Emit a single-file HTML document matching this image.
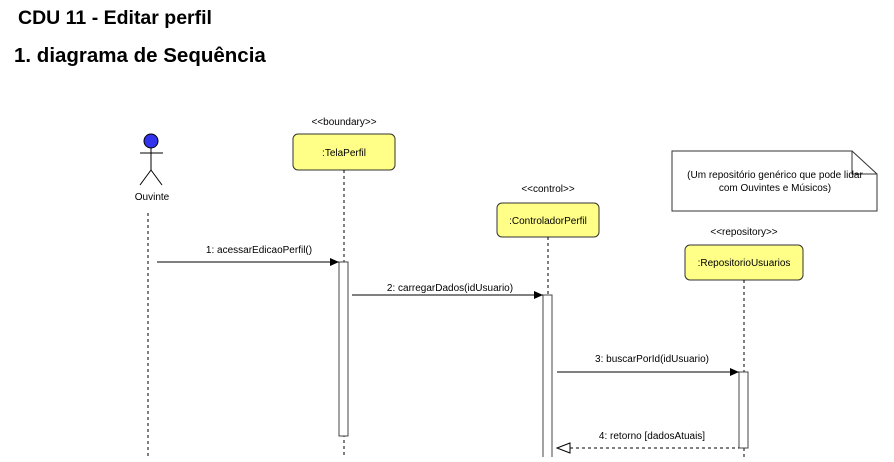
<!DOCTYPE html>
<html><head><meta charset="utf-8"><style>
body{margin:0;background:#fff;width:894px;height:457px;overflow:hidden}
</style></head><body>
<svg width="894" height="457" xmlns="http://www.w3.org/2000/svg" font-family="Liberation Sans, Arial, sans-serif">
<text x="18" y="24" font-size="19.5" font-weight="bold">CDU 11 - Editar perfil</text>
<text x="14" y="62" font-size="20.5" font-weight="bold">1. diagrama de Sequência</text>
<defs>
<marker id="a" markerWidth="10" markerHeight="8" refX="9" refY="4" orient="auto" markerUnits="userSpaceOnUse"><path d="M0,0 L9,4 L0,8 Z" fill="#000"/></marker>
</defs>
<circle cx="151" cy="141" r="7" fill="#3333ee" stroke="#000"/>
<line x1="151" y1="148" x2="151" y2="170" stroke="#000"/>
<line x1="140" y1="153" x2="163" y2="153" stroke="#000"/>
<line x1="151" y1="170" x2="140" y2="185" stroke="#000"/>
<line x1="151" y1="170" x2="162" y2="185" stroke="#000"/>
<text x="152" y="200" font-size="10" text-anchor="middle">Ouvinte</text>
<line x1="148" y1="213" x2="148" y2="457" stroke="#000" stroke-dasharray="3,3"/>
<text x="344" y="125" font-size="10" text-anchor="middle">&lt;&lt;boundary&gt;&gt;</text>
<rect x="293" y="134" width="102" height="36" rx="5" fill="#ffff88" stroke="#333"/>
<text x="344" y="156" font-size="10" text-anchor="middle">:TelaPerfil</text>
<line x1="344" y1="170" x2="344" y2="457" stroke="#000" stroke-dasharray="3,3"/>
<rect x="339" y="262" width="9" height="174" fill="#fff" stroke="#444"/>
<text x="548" y="192" font-size="10" text-anchor="middle">&lt;&lt;control&gt;&gt;</text>
<rect x="497" y="203" width="102" height="34" rx="5" fill="#ffff88" stroke="#333"/>
<text x="548" y="224" font-size="10" text-anchor="middle">:ControladorPerfil</text>
<line x1="548" y1="237" x2="548" y2="457" stroke="#000" stroke-dasharray="3,3"/>
<rect x="543" y="295" width="9" height="170" fill="#fff" stroke="#444"/>
<path d="M672,151 L852,151 L877,174 L877,211 L672,211 Z" fill="#fff" stroke="#333"/>
<path d="M852,151 L852,174 L877,174" fill="none" stroke="#333"/>
<text x="775" y="178" font-size="10" text-anchor="middle">(Um repositório genérico que pode lidar</text>
<text x="775" y="191" font-size="10" text-anchor="middle">com Ouvintes e Músicos)</text>
<text x="744" y="235" font-size="10" text-anchor="middle">&lt;&lt;repository&gt;&gt;</text>
<rect x="685" y="245" width="118" height="35" rx="5" fill="#ffff88" stroke="#333"/>
<text x="744" y="266" font-size="10" text-anchor="middle">:RepositorioUsuarios</text>
<line x1="744" y1="280" x2="744" y2="457" stroke="#000" stroke-dasharray="3,3"/>
<rect x="739" y="372" width="9" height="76" fill="#fff" stroke="#444"/>
<line x1="157" y1="262" x2="339" y2="262" stroke="#000" marker-end="url(#a)"/>
<text x="259" y="253" font-size="10" text-anchor="middle">1: acessarEdicaoPerfil()</text>
<line x1="352" y1="295" x2="543" y2="295" stroke="#000" marker-end="url(#a)"/>
<text x="450" y="291" font-size="10" text-anchor="middle">2: carregarDados(idUsuario)</text>
<line x1="557" y1="372" x2="739" y2="372" stroke="#000" marker-end="url(#a)"/>
<text x="652" y="362" font-size="10" text-anchor="middle">3: buscarPorId(idUsuario)</text>
<line x1="570" y1="448" x2="739" y2="448" stroke="#000" stroke-dasharray="3,3"/>
<path d="M570,443 L557,448 L570,453 Z" fill="#fff" stroke="#000"/>
<text x="652" y="439" font-size="10" text-anchor="middle">4: retorno [dadosAtuais]</text>
</svg>
</body></html>
